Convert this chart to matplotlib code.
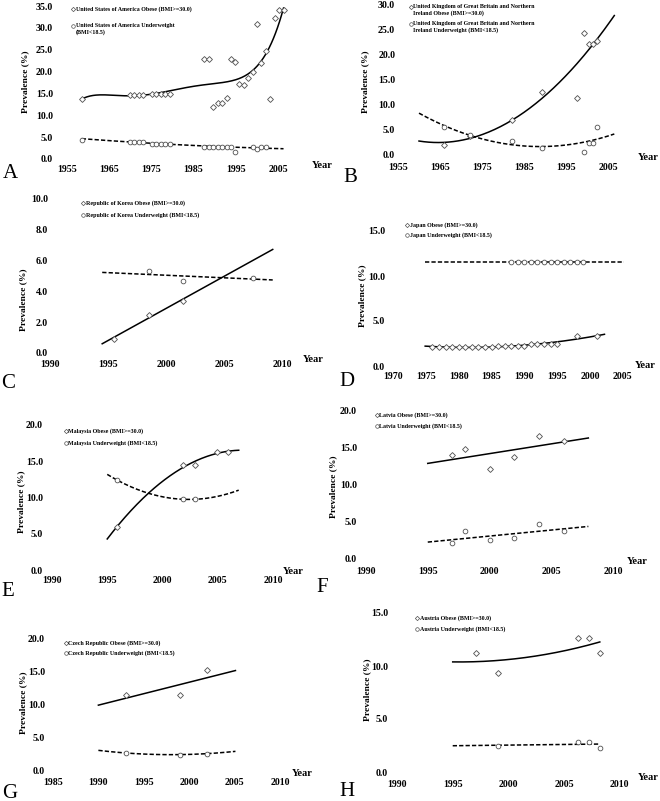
import numpy as np
import matplotlib
matplotlib.use("Agg")
import matplotlib.pyplot as plt
from matplotlib.lines import Line2D

plt.rcParams['font.family'] = ['Liberation Serif', 'DejaVu Serif']

W, H = 660, 801

# ---------------- data ----------------
# A: United States of America
us_ob_years = [1958.5, 1969.9, 1970.9, 1972.1, 1973.1, 1975.2, 1976.2, 1977.3, 1978.3, 1979.3,
               1987.5, 1988.6, 1989.6, 1990.7, 1991.7, 1992.8, 1993.8, 1994.9, 1995.8, 1996.9,
               1998.0, 1999.1, 2000.0, 2001.0, 2002.2, 2003.2, 2004.2, 2005.2, 2006.3]
us_ob = [13.7, 14.6, 14.6, 14.6, 14.6, 14.9, 14.9, 14.9, 14.9, 14.9,
         22.9, 22.9, 11.9, 12.7, 12.7, 13.9, 22.9, 22.2, 17.1, 16.9,
         18.5, 19.8, 30.8, 22.0, 24.6, 13.7, 32.2, 34.0, 34.0]
us_uw_years = [1958.5, 1969.9, 1970.9, 1972.1, 1973.1, 1975.2, 1976.2, 1977.3, 1978.3, 1979.3,
               1987.5, 1988.6, 1989.6, 1990.7, 1991.7, 1992.8, 1993.8, 1994.9,
               1999.1, 2000.0, 2001.0, 2002.2]
us_uw = [4.3, 4.0, 4.0, 4.0, 4.0, 3.5, 3.5, 3.5, 3.5, 3.5,
         2.8, 2.8, 2.8, 2.8, 2.8, 2.8, 2.8, 1.7,
         2.8, 2.4, 2.8, 2.8]

# B: United Kingdom
uk_ob_years = [1966.0, 1972.1, 1982.1, 1989.2, 1997.5, 1999.4, 2000.4, 2001.4, 2002.4]
uk_ob = [1.9, 3.6, 6.9, 12.5, 11.2, 24.3, 22.2, 22.2, 22.8]
uk_uw_years = [1966.0, 1972.1, 1982.1, 1989.2, 1999.4, 2000.4, 2001.4, 2002.4]
uk_uw = [5.4, 3.9, 2.7, 1.3, 0.5, 2.2, 2.2, 5.4]

# C: Republic of Korea
kr_ob_years = [1995.5, 1998.5, 2001.5]
kr_ob = [0.9, 2.5, 3.4]
kr_uw_years = [1998.5, 2001.5, 2007.5]
kr_uw = [5.3, 4.7, 4.9]

# D: Japan
jp_ob_years = [1976, 1977, 1978, 1979, 1980, 1981, 1982, 1983, 1984, 1985, 1986, 1987, 1988,
               1989, 1990, 1991, 1992, 1993, 1994, 1995, 1998, 2001]
jp_ob = [2.1, 2.1, 2.1, 2.1, 2.1, 2.1, 2.1, 2.1, 2.1, 2.1, 2.2, 2.2, 2.2,
         2.2, 2.2, 2.5, 2.5, 2.5, 2.4, 2.5, 3.3, 3.3]
jp_uw_years = [1988, 1989, 1990, 1991, 1992, 1993, 1994, 1995, 1996, 1997, 1998, 1999]
jp_uw = [11.6] * 12

# E: Malaysia
my_ob_years = [1995.9, 2001.9, 2002.9, 2004.9, 2005.9]
my_ob = [6.0, 14.5, 14.5, 16.3, 16.3]
my_uw_years = [1995.9, 2001.9, 2002.9]
my_uw = [12.4, 9.75, 9.75]

# F: Latvia
lv_years = [1997, 1998, 2000, 2002, 2004, 2006]
lv_ob = [13.9, 14.7, 12.1, 13.7, 16.5, 15.8]
lv_uw = [2.1, 3.8, 2.5, 2.8, 4.7, 3.7]

# G: Czech Republic
cz_years = [1993, 1999, 2002]
cz_ob = [11.5, 11.4, 15.2]
cz_uw = [2.6, 2.35, 2.5]

# H: Austria
at_ob_years = [1997.1, 1999.1, 2006.2, 2007.2, 2008.2]
at_ob = [11.2, 9.3, 12.6, 12.6, 11.2]
at_uw_years = [1999.1, 2006.2, 2007.2, 2008.2]
at_uw = [2.45, 2.85, 2.85, 2.25]

panels = [
    dict(letter='A', box=(67, 290.7, 6, 159),
         xlim=(1955, 2008), xticks=range(1955, 2006, 10), ylim=(0, 35), yticks=np.arange(0, 36, 5),
         ob=(us_ob_years, us_ob, 6, (1958.5, 2006.3)), uw=(us_uw_years, us_uw, 2, (1958.5, 2006.3)),
         ypad=10, xpad=4.3, ylab=(25, 82), year=(322, 165), let=(10, 173),
         leg=(73, [9, 26]),
         labels=['United States of America Obese (BMI>=30.0)',
                 'United States of America Underweight\n(BMI<18.5)']),
    dict(letter='B', box=(398, 620.6, 5, 154),
         xlim=(1955, 2008), xticks=range(1955, 2006, 10), ylim=(0, 30), yticks=np.arange(0, 31, 5),
         ob=(uk_ob_years, uk_ob, 2, (1960, 2006.5)), uw=(uk_uw_years, uk_uw, 2, (1960, 2006.5)),
         ypad=2, xpad=6.5, ylab=(365, 82), year=(648, 158), let=(350, 177),
         leg=(411, [7, 24]),
         labels=['United Kingdom of Great Britain and Northern\nIreland Obese (BMI>=30.0)',
                 'United Kingdom of Great Britain and Northern\nIreland Underweight (BMI<18.5)']),
    dict(letter='C', box=(50, 293.6, 199, 353),
         xlim=(1990, 2011), xticks=range(1990, 2011, 5), ylim=(0, 10), yticks=np.arange(0, 11, 2),
         ob=(kr_ob_years, kr_ob, 1, (1994.5, 2009.2)), uw=(kr_uw_years, kr_uw, 1, (1994.5, 2009.2)),
         ypad=1.5, xpad=5, ylab=(23, 300), year=(313, 360), let=(8, 383),
         leg=(83, [203, 215]),
         labels=['Republic of Korea Obese (BMI>=30.0)', 'Republic of Korea Underweight (BMI<18.5)']),
    dict(letter='D', box=(393, 636, 231, 366),
         xlim=(1970, 2007), xticks=range(1970, 2006, 5), ylim=(0, 15), yticks=np.arange(0, 16, 5),
         ob=(jp_ob_years, jp_ob, 2, (1974.9, 2002.2)), uw=(jp_uw_years, jp_uw, 1, (1974.9, 2005.1)),
         ypad=5.8, xpad=4.3, ylab=(362, 296), year=(645, 366), let=(347, 381),
         leg=(407, [225, 235]),
         labels=['Japan Obese (BMI>=30.0)', 'Japan Underweight (BMI<18.5)']),
    dict(letter='E', box=(52, 284, 425, 570),
         xlim=(1990, 2011), xticks=range(1990, 2011, 5), ylim=(0, 20), yticks=np.arange(0, 21, 5),
         ob=(my_ob_years, my_ob, 2, (1995.0, 2006.9)), uw=(my_uw_years, my_uw, 2, (1995.0, 2006.9)),
         ypad=6.5, xpad=4.3, ylab=(21, 502), year=(293, 572), let=(8, 592),
         leg=(66, [431, 443]),
         labels=['Malaysia Obese (BMI>=30.0)', 'Malaysia Underweight (BMI<18.5)']),
    dict(letter='F', box=(366, 625.4, 410, 559),
         xlim=(1990, 2011), xticks=range(1990, 2011, 5), ylim=(0, 20), yticks=np.arange(0, 21, 5),
         ob=(lv_years, lv_ob, 1, (1995.0, 2008.0)), uw=(lv_years, lv_uw, 1, (1995.0, 2008.0)),
         ypad=6.5, xpad=5.8, ylab=(333, 487), year=(637, 562), let=(322, 587),
         leg=(377, [415, 426]),
         labels=['Latvia Obese (BMI>=30.0)', 'Latvia Underweight (BMI<18.5)']),
    dict(letter='G', box=(53, 289, 639, 770),
         xlim=(1985, 2011), xticks=range(1985, 2011, 5), ylim=(0, 20), yticks=np.arange(0, 21, 5),
         ob=(cz_years, cz_ob, 1, (1990.0, 2005.1)), uw=(cz_years, cz_uw, 2, (1990.0, 2005.1)),
         ypad=5.8, xpad=5.8, ylab=(23, 703), year=(302, 773), let=(10, 793),
         leg=(66, [643, 653]),
         labels=['Czech Republic Obese (BMI>=30.0)', 'Czech Republic Underweight (BMI<18.5)']),
    dict(letter='H', box=(397, 631, 613, 772),
         xlim=(1990, 2011), xticks=range(1990, 2011, 5), ylim=(0, 15), yticks=np.arange(0, 16, 5),
         ob=(at_ob_years, at_ob, 2, (1995.0, 2008.2)), uw=(at_uw_years, at_uw, 1, (1995.0, 2008.2)),
         ypad=6.5, xpad=5.8, ylab=(367, 690), year=(648, 777), let=(347, 792),
         leg=(417, [618, 629]),
         labels=['Austria Obese (BMI>=30.0)', 'Austria Underweight (BMI<18.5)']),
]

MK_EDGE = '#505050'
DASH = (0, (2.8, 1.4))


def fx(px):
    return px / W


def fy(py):
    return 1 - py / H


def trend(years, vals, deg, span):
    # least-squares polynomial trend line, like the spreadsheet trendlines
    x = np.asarray(years, float)
    y = np.asarray(vals, float)
    c = x.mean()
    coef = np.polyfit((x - c) / 10.0, y, deg)
    xs = np.linspace(span[0], span[1], 200)
    return xs, np.polyval(coef, (xs - c) / 10.0)


fig = plt.figure(figsize=(W / 100, H / 100), dpi=100)

for p in panels:
    l, r, t, b = p['box']
    ax = fig.add_axes([fx(l), fy(b), (r - l) / W, (b - t) / H])
    ax.set_xlim(*p['xlim'])
    ax.set_ylim(*p['ylim'])
    ax.set_xticks(list(p['xticks']))
    ax.set_yticks(p['yticks'])
    ax.set_yticklabels([f"{v:.1f}" for v in p['yticks']])
    for s in ax.spines.values():
        s.set_visible(False)
    ax.tick_params(axis='both', length=0, labelsize=7.1)
    ax.tick_params(axis='y', pad=p['ypad'])
    ax.tick_params(axis='x', pad=p['xpad'])
    for lab in ax.get_xticklabels() + ax.get_yticklabels():
        lab.set_fontweight('bold')
    ax.patch.set_visible(False)

    # trend lines and points
    yrs, vals, deg, span = p['ob']
    xs, ys = trend(yrs, vals, deg, span)
    ax.plot(xs, ys, color='black', lw=1.1, clip_on=False, zorder=2)
    ax.plot(yrs, vals, ls='none', marker='D', ms=3.0, mfc='white', mec=MK_EDGE, mew=0.6,
            clip_on=False, zorder=3)

    yrs, vals, deg, span = p['uw']
    xs, ys = trend(yrs, vals, deg, span)
    ax.plot(xs, ys, color='black', lw=1.1, ls=DASH, clip_on=False, zorder=2)
    ax.plot(yrs, vals, ls='none', marker='o', ms=3.4, mfc='white', mec=MK_EDGE, mew=0.6,
            clip_on=False, zorder=3)

    # labels
    fig.text(fx(p['ylab'][0]), fy(p['ylab'][1]), 'Prevalence (%)', rotation=90,
             ha='center', va='center', fontsize=6.8, fontweight='bold')
    fig.text(fx(p['year'][0]), fy(p['year'][1]), 'Year', ha='center', va='center',
             fontsize=7.5, fontweight='bold')
    fig.text(fx(p['let'][0]), fy(p['let'][1]), p['letter'], ha='center', va='center',
             fontsize=15)

    # legend entries
    mx, ys_leg = p['leg']
    for i, (yy, lab) in enumerate(zip(ys_leg, p['labels'])):
        mk = 'D' if i == 0 else 'o'
        fig.add_artist(Line2D([fx(mx)], [fy(yy)], transform=fig.transFigure, marker=mk,
                              ms=2.2 if mk == 'D' else 2.6, mfc='white', mec=MK_EDGE, mew=0.5))
        fig.text(fx(mx + 2.5), fy(yy - 3.2), lab, ha='left', va='top', fontsize=4.3,
                 fontweight='bold', linespacing=1.35)

fig.savefig('out.png', dpi=100)
